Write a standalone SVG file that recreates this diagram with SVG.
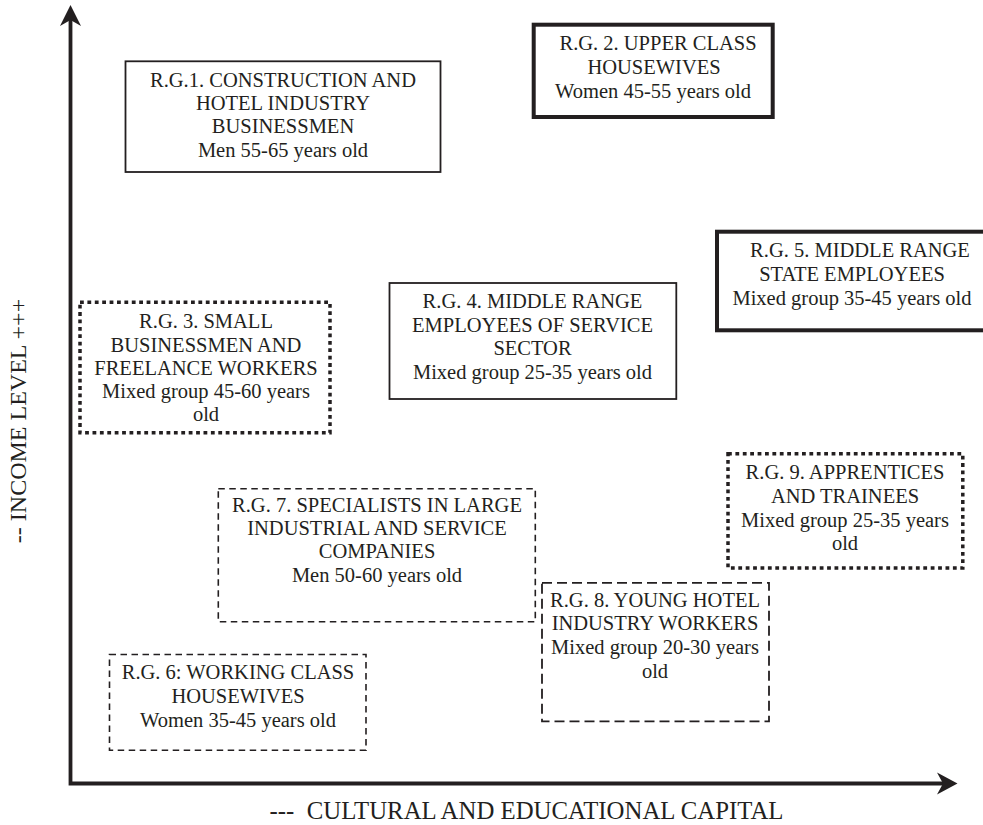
<svg xmlns="http://www.w3.org/2000/svg" width="983" height="825" viewBox="0 0 983 825">
<style>
text{font-family:"Liberation Serif","Times New Roman",serif;fill:#231f20;text-anchor:middle}
.t{font-size:20.5px}
.ax{font-size:24px}
.axb{font-size:24.8px}
.b{fill:none;stroke:#231f20}
.solid{stroke-width:1.8}
.thick{stroke-width:4}
.dot{stroke-width:3.5;stroke-dasharray:3.8 3.6}
.dash{stroke-width:1.6;stroke-dasharray:6.5 4.5}
.ldash{stroke-width:1.8;stroke-dasharray:10 5}
.axis{fill:none;stroke:#231f20;stroke-width:3.8}
.head{fill:#231f20}
</style>
<rect width="983" height="825" fill="#fff"/>
<g id="axes">
<path class="axis" d="M70.5,18 L70.5,783.5 L945,783.5"/>
<path class="head" d="M70.5,5 L81,26 L70.5,20 L60,26 Z"/>
<path class="head" d="M957.5,783.5 L937,772.5 L943,783.5 L937,794.5 Z"/>
<text class="axb" x="526.5" y="819" xml:space="preserve">---  CULTURAL AND EDUCATIONAL CAPITAL</text>
<text class="ax" transform="translate(26,421) rotate(-90)">-- INCOME LEVEL +++</text>
</g>
<g id="connectors"></g>
<g id="rg1">
<rect class="b solid" x="125.5" y="61.3" width="315" height="110.7"/>
<text class="t" x="283" y="87">R.G.1. CONSTRUCTION AND</text>
<text class="t" x="283" y="110">HOTEL INDUSTRY</text>
<text class="t" x="283" y="133">BUSINESSMEN</text>
<text class="t" x="283" y="157">Men 55-65 years old</text>
</g>
<g id="rg2">
<rect class="b thick" x="533.7" y="24.7" width="239" height="92.3"/>
<text class="t" x="658" y="50">R.G. 2. UPPER CLASS</text>
<text class="t" x="654" y="74">HOUSEWIVES</text>
<text class="t" x="653" y="98">Women 45-55 years old</text>
</g>
<g id="rg3">
<rect class="b dot" x="80" y="302.3" width="250" height="130.5"/>
<text class="t" x="206" y="328">R.G. 3. SMALL</text>
<text class="t" x="206" y="352">BUSINESSMEN AND</text>
<text class="t" x="206" y="375">FREELANCE WORKERS</text>
<text class="t" x="206" y="398">Mixed group 45-60 years</text>
<text class="t" x="206" y="421">old</text>
</g>
<g id="rg4">
<rect class="b solid" x="389.5" y="283" width="286.8" height="116"/>
<text class="t" x="532.5" y="308">R.G. 4. MIDDLE RANGE</text>
<text class="t" x="532.5" y="332">EMPLOYEES OF SERVICE</text>
<text class="t" x="532.5" y="355">SECTOR</text>
<text class="t" x="532.5" y="379">Mixed group 25-35 years old</text>
</g>
<g id="rg5">
<rect class="b thick" x="717" y="231.7" width="272" height="98.6"/>
<text class="t" x="860" y="257">R.G. 5. MIDDLE RANGE</text>
<text class="t" x="852" y="281">STATE EMPLOYEES</text>
<text class="t" x="852" y="305">Mixed group 35-45 years old</text>
</g>
<g id="rg6">
<rect class="b dash" x="109.5" y="654.5" width="256.5" height="95.7"/>
<text class="t" x="238" y="679">R.G. 6: WORKING CLASS</text>
<text class="t" x="238" y="703">HOUSEWIVES</text>
<text class="t" x="238" y="727">Women 35-45 years old</text>
</g>
<g id="rg7">
<rect class="b dash" x="218.3" y="488.7" width="317" height="133"/>
<text class="t" x="377" y="512">R.G. 7. SPECIALISTS IN LARGE</text>
<text class="t" x="377" y="535">INDUSTRIAL AND SERVICE</text>
<text class="t" x="377" y="558">COMPANIES</text>
<text class="t" x="377" y="582">Men 50-60 years old</text>
</g>
<g id="rg8">
<rect class="b ldash" x="542" y="582.8" width="227" height="138.5"/>
<text class="t" x="655" y="607">R.G. 8. YOUNG HOTEL</text>
<text class="t" x="655" y="630">INDUSTRY WORKERS</text>
<text class="t" x="655" y="654">Mixed group 20-30 years</text>
<text class="t" x="655" y="678">old</text>
</g>
<g id="rg9">
<rect class="b dot" x="728" y="453.7" width="234.8" height="114.3"/>
<text class="t" x="845" y="479">R.G. 9. APPRENTICES</text>
<text class="t" x="845" y="503">AND TRAINEES</text>
<text class="t" x="845" y="527">Mixed group 25-35 years</text>
<text class="t" x="845" y="550">old</text>
</g>
</svg>
